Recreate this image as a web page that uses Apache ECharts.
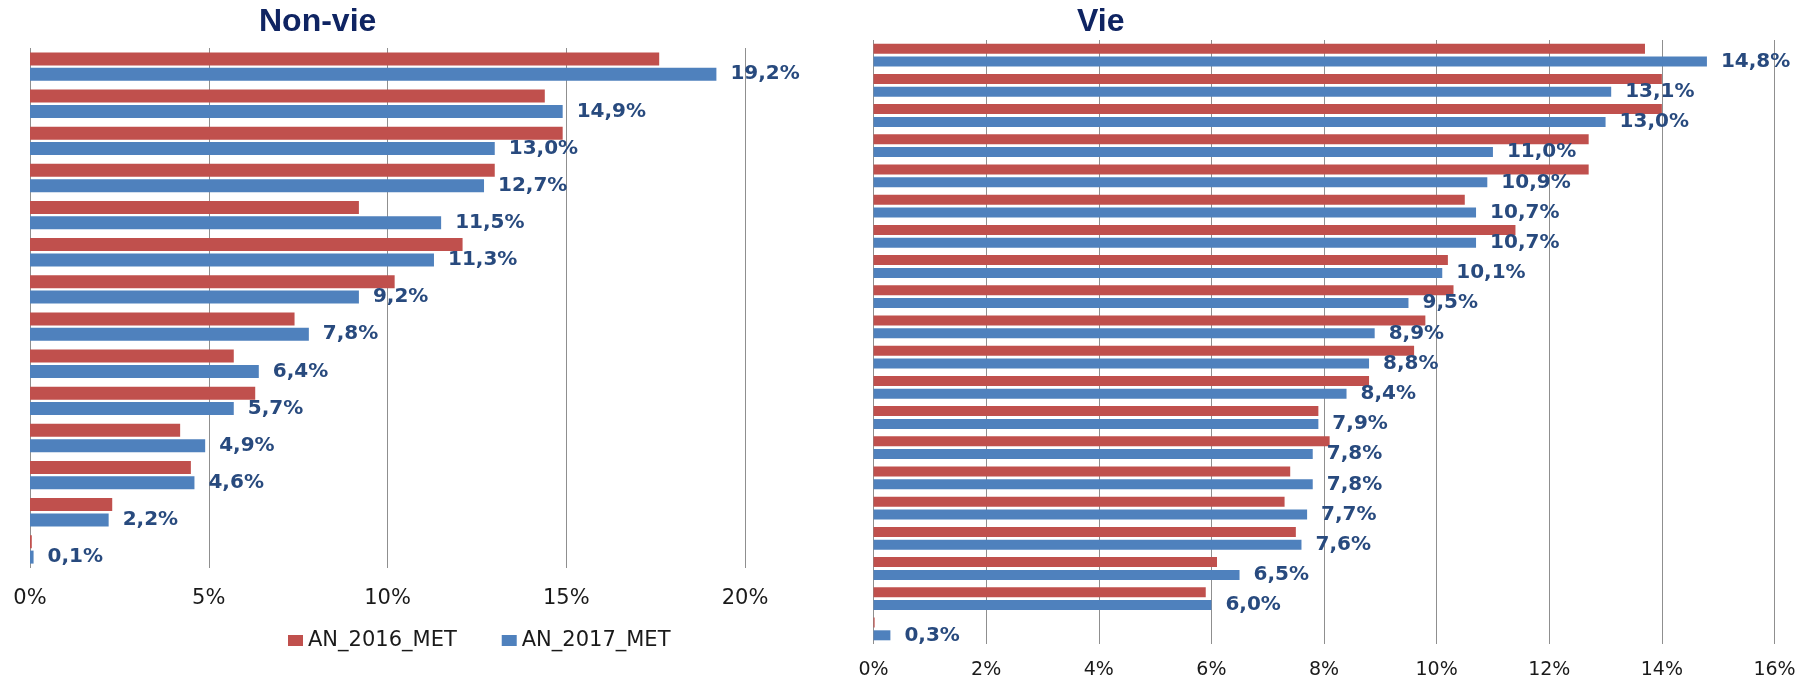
<!DOCTYPE html>
<html><head><meta charset="utf-8">
<script src="https://cdn.jsdelivr.net/npm/echarts@6/dist/echarts.min.js"></script>
<style>html,body{margin:0;padding:0;background:#fff}#c{width:1801px;height:680px}</style>
</head><body><div id="c"></div>
<script>
// ---- data ----
const seriesNames = ['AN_2016_MET', 'AN_2017_MET'];
const titles = ['Non-vie', 'Vie'];

const nonVieCategories = ['NV01','NV02','NV03','NV04','NV05','NV06','NV07','NV08','NV09','NV10','NV11','NV12','NV13','NV14'];
const nonVie2016 = [17.6, 14.4, 14.9, 13.0, 9.2, 12.1, 10.2, 7.4, 5.7, 6.3, 4.2, 4.5, 2.3, 0.05];
const nonVie2017 = [19.2, 14.9, 13.0, 12.7, 11.5, 11.3, 9.2, 7.8, 6.4, 5.7, 4.9, 4.6, 2.2, 0.1];
const nonVieTicks = [0, 5, 10, 15, 20];

const vieCategories = ['V01','V02','V03','V04','V05','V06','V07','V08','V09','V10','V11','V12','V13','V14','V15','V16','V17','V18','V19','V20'];
const vie2016 = [13.7, 14.0, 14.0, 12.7, 12.7, 10.5, 11.4, 10.2, 10.3, 9.8, 9.6, 8.8, 7.9, 8.1, 7.4, 7.3, 7.5, 6.1, 5.9, 0.02];
const vie2017 = [14.8, 13.1, 13.0, 11.0, 10.9, 10.7, 10.7, 10.1, 9.5, 8.9, 8.8, 8.4, 7.9, 7.8, 7.8, 7.7, 7.6, 6.5, 6.0, 0.3];
const vieTicks = [0, 2, 4, 6, 8, 10, 12, 14, 16];

// ---- styles ----
const RED = '#C0504D', BLUE = '#4F81BD', GRID = '#8f8f8f';
const TITLE_COLOR = '#0F2462', LABEL_COLOR = '#284A7E';
const fmtPct = v => v.toFixed(1).replace('.', ',') + '%';

function valueAxis(gridIndex, ticks, fontSize, margin) {
  return {
    type: 'value', gridIndex,
    min: ticks[0], max: ticks[ticks.length - 1], interval: ticks[1] - ticks[0],
    axisLine: {show: false}, axisTick: {show: false},
    splitLine: {show: true, showMinLine: true, showMaxLine: true, lineStyle: {color: GRID, width: 1}},
    axisLabel: {formatter: v => v + '%', fontFamily: 'DejaVu Sans', fontSize, color: '#1a1a1a', margin}
  };
}
function catAxis(gridIndex, cats) {
  return {
    type: 'category', gridIndex, data: cats, inverse: true,
    axisLine: {show: false}, axisTick: {show: false}, axisLabel: {show: false}, splitLine: {show: false}
  };
}
function bars(name, data, idx, color, barWidth, barGap, withLabel) {
  return {
    name, type: 'bar', xAxisIndex: idx, yAxisIndex: idx, data,
    barWidth, barGap, barCategoryGap: '20%',
    itemStyle: {color},
    animation: false,
    label: withLabel ? {
      show: true, position: 'right', distance: 14,
      formatter: p => fmtPct(p.value),
      fontFamily: 'DejaVu Sans', fontWeight: 'bold', fontSize: 20, color: LABEL_COLOR
    } : {show: false}
  };
}

const chart = echarts.init(document.getElementById('c'), null, {renderer: 'canvas'});
chart.setOption({
  animation: false,
  backgroundColor: '#ffffff',
  title: [
    {text: titles[0], left: 259, top: 6, padding: 0,
     textStyle: {fontFamily: 'Liberation Sans', fontWeight: 'bold', fontSize: 32, color: TITLE_COLOR}},
    {text: titles[1], left: 1077, top: 6, padding: 0,
     textStyle: {fontFamily: 'Liberation Sans', fontWeight: 'bold', fontSize: 32, color: TITLE_COLOR}}
  ],
  legend: {
    data: seriesNames, left: 288, top: 630, padding: 0,
    itemWidth: 15, itemHeight: 11, itemGap: 45, icon: 'rect',
    textStyle: {fontFamily: 'DejaVu Sans', fontSize: 21, color: '#1a1a1a'}
  },
  grid: [
    {left: 30, top: 48, width: 715, height: 520, containLabel: false},
    {left: 873.5, top: 40, width: 901, height: 605, containLabel: false}
  ],
  xAxis: [valueAxis(0, nonVieTicks, 21, 20), valueAxis(1, vieTicks, 19, 17)],
  yAxis: [catAxis(0, nonVieCategories), catAxis(1, vieCategories)],
  series: [
    bars(seriesNames[0], nonVie2016, 0, RED, 13, '18%', false),
    bars(seriesNames[1], nonVie2017, 0, BLUE, 13, '18%', true),
    bars(seriesNames[0], vie2016, 1, RED, 10, '28%', false),
    bars(seriesNames[1], vie2017, 1, BLUE, 10, '28%', true)
  ]
});
</script></body></html>
